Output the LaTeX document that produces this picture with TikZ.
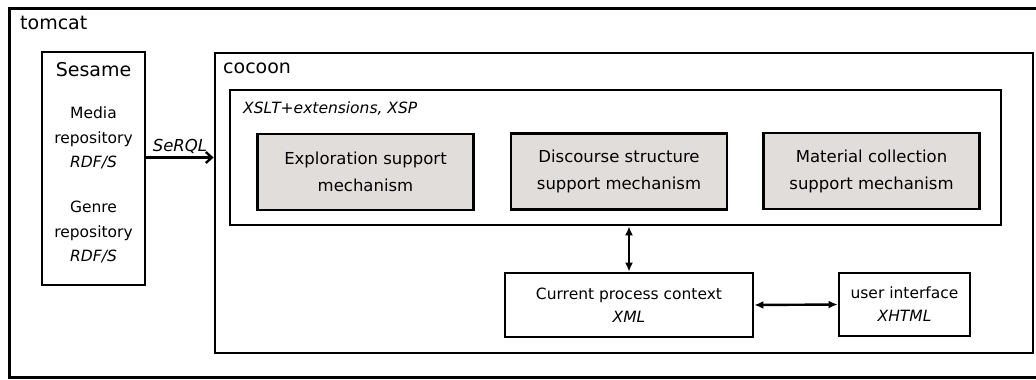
\documentclass[tikz,border=0pt]{standalone}
\usepackage{fontspec}
\usetikzlibrary{arrows.meta}
\setmainfont{DejaVu Sans}
\definecolor{mechgray}{RGB}{225,221,219}
\newcommand{\biglbl}{\fontsize{19}{22}\selectfont}
\newcommand{\txtlbl}{\fontsize{15.5}{24.5}\selectfont}
\begin{document}
\begin{tikzpicture}[x=1pt, y=-1pt,
	box/.style={draw, line width=2.8pt, inner sep=0pt},
	link/.style={line width=2.4pt},
	mech/.style={box, fill=mechgray, minimum width=216, minimum height=76, align=center, font=\fontsize{16.5}{27}\selectfont},
	plain/.style={box, align=center, font=\fontsize{15.5}{23}\selectfont}]
		\useasboundingbox (0,0) rectangle (1036,380);
		\clip (0,0) rectangle (1036,380);
		% containers
		\node[box, anchor=north west, minimum width=1040, minimum height=369] (tomcat) at (8,7) {};
		\node[anchor=base west, font=\biglbl, inner sep=0pt] (tomcatlbl) at (20,29) {tomcat};
		\node[box, minimum width=103, minimum height=233] (sesame) at (93.5,168.5) {};
		\node[box, minimum width=818, minimum height=300] (cocoon) at (624,203) {};
		\node[anchor=west, font=\biglbl, inner sep=0pt] (cocoonlbl) at (223,68) {cocoon};
		\node[box, minimum width=771, minimum height=135] (xslt) at (615.5,157.5) {};
		\node[anchor=west, font=\txtlbl\itshape, inner sep=0pt] (xsltlbl) at (243,109) {XSLT+extensions, XSP};
		% sesame contents
		\node[font=\biglbl] (sesamelbl) at (93.5,70) {Sesame};
		\node[align=center, font=\txtlbl] (media) at (93.5,138) {Media\\repository\\\textit{RDF/S}};
		\node[align=center, font=\txtlbl] (genre) at (93.5,232) {Genre\\repository\\\textit{RDF/S}};
		% mechanisms
		\node[mech] (explore) at (365.5,172) {Exploration support\\mechanism};
		\node[mech] (discourse) at (619,171.5) {Discourse structure\\support mechanism};
		\node[mech] (material) at (871.5,171) {Material collection\\support mechanism};
		% context and interface
		\node[plain, minimum width=248, minimum height=64] (current) at (629,305) {Current process context\\\textit{XML}};
		\node[plain, minimum width=131, minimum height=63] (ui) at (904.5,304.5) {user interface\\\textit{XHTML}};
		% connectors
		\draw[-{Straight Barb[length=6pt,width=11pt]}, link] (sesame.east |- xslt.west) -- node[above, font=\fontsize{16.5}{20}\selectfont\itshape, inner sep=3pt] (serql) {SeRQL} (cocoon.west |- xslt.west);
		\draw[{Latex[length=9pt,width=8pt]}-{Latex[length=9pt,width=8pt]}, link] (xslt.south -| current.north) -- (current.north);
		\draw[{Latex[length=9pt,width=8pt]}-{Latex[length=9pt,width=8pt]}, link] (current.east) -- (ui.west);
	\end{tikzpicture}
\end{document}
